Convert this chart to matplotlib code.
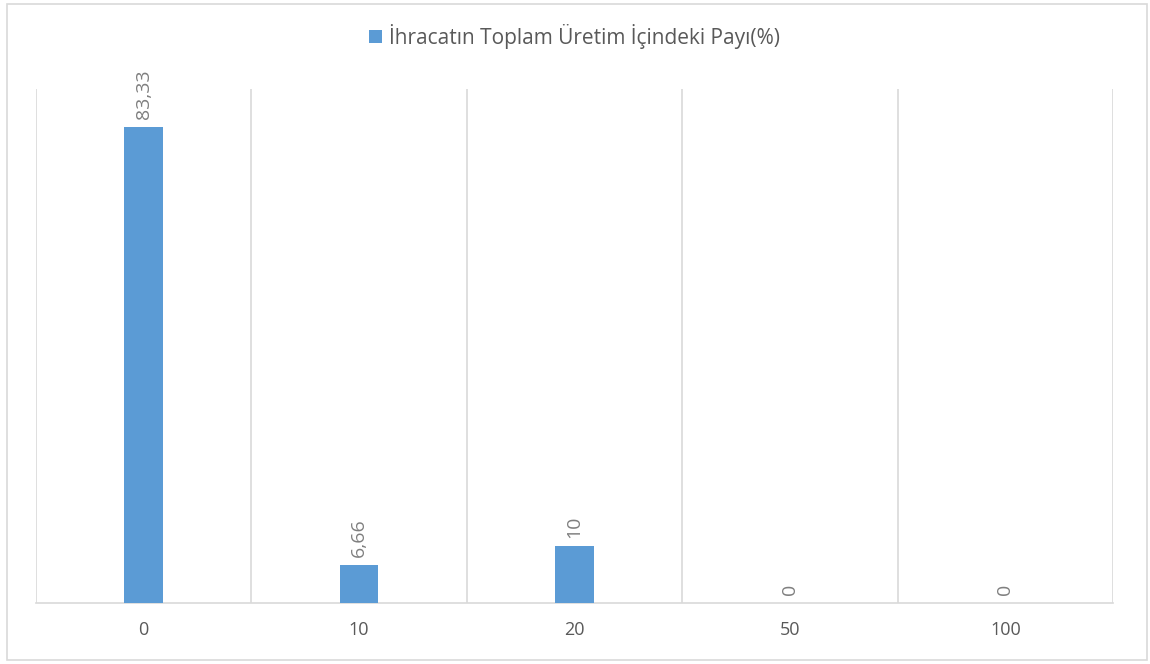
import matplotlib
matplotlib.use("Agg")
import numpy as np
from matplotlib import pyplot as plt
from matplotlib.patches import Rectangle

categories = ["0", "10", "20", "50", "100"]
values = [83.33, 6.66, 10, 0, 0]
value_labels = ["83,33", "6,66", "10", "0", "0"]
series_name = "İhracatın Toplam Üretim İçindeki Payı(%)"

plt.rcParams['font.family'] = ['Open Sans', 'DejaVu Sans']

fig = plt.figure(figsize=(11.5, 6.64), dpi=100)
fig.patches.append(Rectangle((7 / 1150, 4 / 664), 1140 / 1150, 656 / 664,
                             transform=fig.transFigure, fill=False,
                             edgecolor='#d9d9d9', linewidth=1.2))

ax = fig.add_axes([36 / 1150, 61 / 664, 1077 / 1150, 514 / 664])
x = np.arange(len(categories))
bars = ax.bar(x, values, width=0.18, color='#5b9bd5', label=series_name, zorder=3)

ax.set_xlim(-0.5, len(categories) - 0.5)
ax.set_ylim(0, 90)

# category separators
for b in np.arange(-0.5, len(categories), 1.0):
    ax.axvline(b, color='#d9d9d9', linewidth=1.2, zorder=1)

for spine in ['top', 'left', 'right']:
    ax.spines[spine].set_visible(False)
ax.spines['bottom'].set_color('#d9d9d9')
ax.spines['bottom'].set_linewidth(1.2)

ax.set_xticks(x)
ax.set_xticklabels(categories, fontsize=13, color='#595959')
ax.tick_params(axis='x', length=0, pad=13)
ax.set_yticks([])

for xi, v, lab in zip(x, values, value_labels):
    ax.annotate(lab, (xi, v), xytext=(0, 6), textcoords='offset points',
                rotation=90, ha='center', va='bottom', fontsize=14, color='#7f7f7f')

ax.legend(loc='center', bbox_to_anchor=(0.5, 1.102), frameon=False,
          fontsize=15, handlelength=0.6, handleheight=0.6, handletextpad=0.35,
          labelcolor='#595959')

fig.savefig("out.png", dpi=100)
